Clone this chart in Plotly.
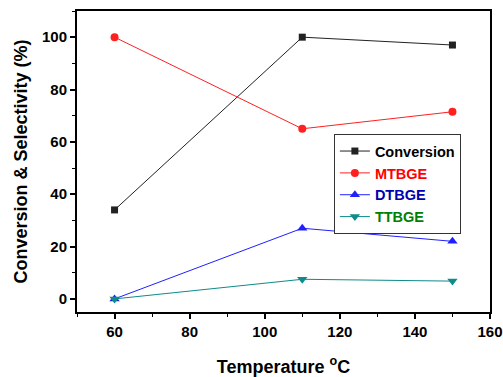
import plotly.graph_objects as go

temps = [60, 110, 150]
conversion = [34, 100, 97]
mtbge = [100, 65, 71.5]
dtbge = [0, 27, 22]
ttbge = [0, 7.5, 6.8]

series = [
    ("Conversion", conversion, "#222222", "#000000", "square", 7),
    ("MTBGE", mtbge, "#ff2020", "#ff0000", "circle", 8),
    ("DTBGE", dtbge, "#2020ff", "#0000b0", "triangle-up", 9),
    ("TTBGE", ttbge, "#108a8a", "#008000", "triangle-down", 9),
]

fig = go.Figure()
for name, vals, lc, tc, sym, sz in series:
    fig.add_trace(go.Scatter(
        x=temps, y=vals, mode="lines+markers",
        name=f"<span style='color:{tc}'>{name}</span>",
        line=dict(color=lc, width=1),
        marker=dict(symbol=sym, size=sz, color=lc),
    ))

font = "Liberation Sans, Arial, sans-serif"
fig.update_layout(
    width=503, height=377,
    margin=dict(l=77, r=13, t=11, b=65),
    paper_bgcolor="white", plot_bgcolor="white",
    font=dict(family=font, color="black"),
    showlegend=True,
    legend=dict(
        x=0.622, y=0.591, xanchor="left", yanchor="top",
        bordercolor="#333333", borderwidth=1,
        font=dict(size=14.5, family=font, weight="bold"),
        itemwidth=30, tracegroupgap=0,
        bgcolor="white",
    ),
    xaxis=dict(
        range=[50, 160], dtick=20, tick0=0, automargin=False,
        showline=True, linecolor="black", linewidth=2, mirror=True,
        ticks="outside", ticklen=5, tickwidth=1.5, tickcolor="black",
        minor=dict(ticks="outside", ticklen=3, dtick=10, tickcolor="black", tickwidth=1),
        showgrid=False, zeroline=False,
        tickfont=dict(size=15, family=font, weight="bold"),
        title=dict(text="Temperature <sup>o</sup>C", font=dict(size=18, family=font, weight="bold"), standoff=26),
    ),
    yaxis=dict(
        range=[-5, 110], dtick=20, tick0=0, automargin=False,
        showline=True, linecolor="black", linewidth=2, mirror=True,
        ticks="outside", ticklen=5, tickwidth=1.5, tickcolor="black",
        minor=dict(ticks="outside", ticklen=3, dtick=10, tickcolor="black", tickwidth=1),
        showgrid=False, zeroline=False,
        tickfont=dict(size=15, family=font, weight="bold"),
        title=dict(text="Conversion & Selectivity (%)", font=dict(size=18, family=font, weight="bold"), standoff=10),
    ),
)
fig.write_html("out.html")
